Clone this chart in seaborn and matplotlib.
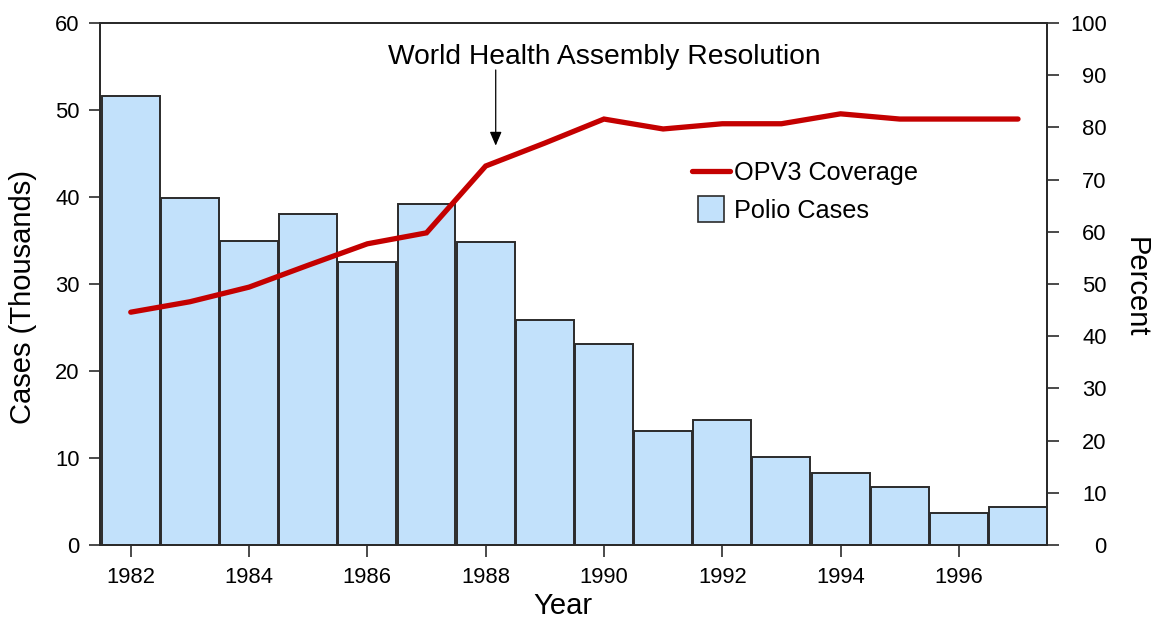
import matplotlib
matplotlib.use("Agg")
import matplotlib.pyplot as plt
from matplotlib.lines import Line2D
import seaborn as sns
import pandas as pd

years = [1982, 1983, 1984, 1985, 1986, 1987, 1988, 1989, 1990,
         1991, 1992, 1993, 1994, 1995, 1996, 1997]
polio_cases = [51.6, 39.9, 34.9, 38.0, 32.5, 39.2, 34.8, 25.9, 23.1,
               13.1, 14.4, 10.1, 8.3, 6.7, 3.7, 4.4]
opv3_coverage = [44.6, 46.6, 49.4, 53.6, 57.7, 59.8, 72.6, 77.0, 81.6,
                 79.7, 80.7, 80.7, 82.6, 81.6, 81.6, 81.6]
x_ticks = [1982, 1984, 1986, 1988, 1990, 1992, 1994, 1996]
left_ticks = [0, 10, 20, 30, 40, 50, 60]
right_ticks = [0, 10, 20, 30, 40, 50, 60, 70, 80, 90, 100]

df = pd.DataFrame({"Year": years, "Cases": polio_cases, "Coverage": opv3_coverage})

sns.set_theme(style="white")
plt.rcParams["font.family"] = ["Liberation Sans", "DejaVu Sans"]
plt.rcParams["text.color"] = "black"
plt.rcParams["axes.labelcolor"] = "black"
plt.rcParams["xtick.color"] = "black"
plt.rcParams["ytick.color"] = "black"

BAR = "#c2e1fb"
EDGE = "#2b2b2b"
RED = "#c40000"

W, H = 1156, 619
fig = plt.figure(figsize=(W / 100, H / 100), dpi=100)
ax = fig.add_axes([100 / W, 1 - 545 / H, 947 / W, 522 / H])

sns.barplot(data=df, x="Year", y="Cases", native_scale=True, width=0.98,
            color=BAR, edgecolor=EDGE, linewidth=1.4, saturation=1, ax=ax)
ax.set_xlim(1981.48, 1997.49)
ax.set_ylim(0, 60)
ax.set_xticks(x_ticks)
ax.set_xticklabels([str(t) for t in x_ticks])
ax.set_yticks(left_ticks)

ax2 = ax.twinx()
sns.lineplot(data=df, x="Year", y="Coverage", color=RED, linewidth=3.8,
             ax=ax2, solid_joinstyle="miter")
ax2.set_ylim(0, 100)
ax2.set_yticks(right_ticks)
ax2.set_xlim(1981.48, 1997.49)

for a in (ax, ax2):
    for s in a.spines.values():
        s.set_color(EDGE)
        s.set_linewidth(1.4)
        s.set_visible(True)

ax.tick_params(axis="x", direction="out", length=8.6, width=1.2, color=EDGE,
               labelsize=15.8, labelcolor="black", pad=7, bottom=True)
ax.tick_params(axis="y", direction="out", length=8, width=1.2, color=EDGE,
               labelsize=15.8, labelcolor="black", pad=6.5, left=True)
ax2.tick_params(axis="y", direction="out", length=8.6, width=1.2, color=EDGE,
                labelsize=15.8, labelcolor="black", pad=34.5, right=True)
for lab in ax2.get_yticklabels():
    lab.set_horizontalalignment("right")

ax.set_xlabel("Year", fontsize=21, color="black")
ax.xaxis.set_label_coords((563 - 100) / 947, -0.09)
ax.set_ylabel("Cases (Thousands)", fontsize=21, color="black")
ax.yaxis.set_label_coords(-(100 - 37) / 947, (545 - 297.5) / 522)
ax2.set_ylabel("Percent", fontsize=21, rotation=270, va="center", color="black")
ax2.yaxis.set_label_coords(1 + (1136 - 1047) / 947, (545 - 287) / 522)

ax.text(1990.0, 55.29, "World Health Assembly Resolution", fontsize=20.3,
        ha="center", va="baseline", color="black")
ax.annotate("", xy=(1988.17, 45.9), xytext=(1988.17, 54.6),
            arrowprops=dict(arrowstyle="-|>,head_length=0.7,head_width=0.3",
                            color="black", lw=0.9, shrinkA=0, shrinkB=0))

handles = [
    Line2D([0], [0], color=RED, lw=3.8),
    Line2D([0], [0], marker="s", markersize=19, markerfacecolor=BAR,
           markeredgecolor=EDGE, markeredgewidth=1.2, linestyle="none"),
]
fig.legend(handles, ["OPV3 Coverage", "Polio Cases"], loc="upper left",
           bbox_to_anchor=(692 / W, 1 - 161 / H), frameon=False, fontsize=18.2,
           handlelength=1.5, handletextpad=0.15, borderpad=0, borderaxespad=0,
           labelspacing=0.55)

fig.savefig("out.png", dpi=100)
